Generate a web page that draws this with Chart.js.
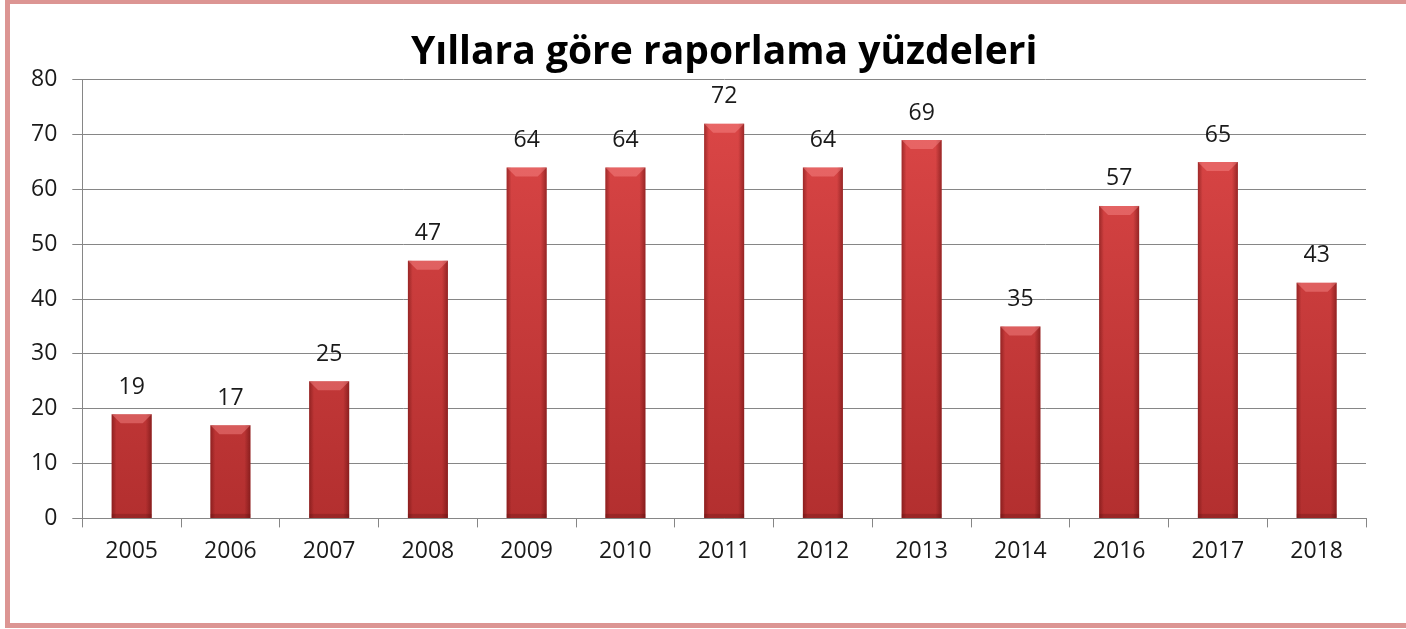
<!DOCTYPE html>
<html>
<head>
<meta charset="utf-8">
<script src="https://cdn.jsdelivr.net/npm/chart.js@4"></script>
<style>
  html, body { margin: 0; padding: 0; background: #fff; overflow: hidden; }
  #kutu {
    position: absolute; left: 5px; top: 0; width: 1450px; height: 619px;
    border-left: 5px solid #dc9593; border-top: 4px solid #dc9593; border-bottom: 5px solid #dc9593;
  }
  #grafikAlani { position: absolute; left: 0; top: 0; width: 1406px; height: 629px; }
</style>
</head>
<body>
<div id="kutu"></div>
<div id="grafikAlani"><canvas id="grafik" width="1406" height="629"></canvas></div>
<script>
// Yıllar ve yüzdeler
const yillar = ['2005', '2006', '2007', '2008', '2009', '2010', '2011', '2012', '2013', '2014', '2016', '2017', '2018'];
const yuzdeler = [19, 17, 25, 47, 64, 64, 72, 64, 69, 35, 57, 65, 43];
const eksenMin = 0;
const eksenMax = 80;
const eksenAdim = 10;

const yaziTipi = "'Open Sans', 'DejaVu Sans', sans-serif";

// Çubukların üstüne değer yazan eklenti (pah ve gölge de burada)
const degerEtiketi = {
    id: 'degerEtiketi',
    afterDatasetsDraw(chart) {
        const ctx = chart.ctx;
        const meta = chart.getDatasetMeta(0);
        ctx.save();
        meta.data.forEach((bar, i) => {
            const sol = bar.x - bar.width / 2;
            const sag = bar.x + bar.width / 2;
            const ust = bar.y;
            const alt = bar.base;
            // kenar gölgeleri
            let g = ctx.createLinearGradient(sol, 0, sag, 0);
            g.addColorStop(0, 'rgba(90,10,10,0.45)');
            g.addColorStop(0.12, 'rgba(90,10,10,0)');
            g.addColorStop(0.85, 'rgba(90,10,10,0)');
            g.addColorStop(1, 'rgba(90,10,10,0.5)');
            ctx.fillStyle = g;
            ctx.fillRect(sol, ust, sag - sol, alt - ust);
            // üst pah
            const h = 9;
            ctx.beginPath();
            ctx.moveTo(sol, ust);
            ctx.lineTo(sag, ust);
            ctx.lineTo(sag - h, ust + h);
            ctx.lineTo(sol + h, ust + h);
            ctx.closePath();
            ctx.fillStyle = 'rgba(255,150,150,0.4)';
            ctx.fill();
            // alt gölge
            ctx.fillStyle = 'rgba(80,10,10,0.25)';
            ctx.fillRect(sol, alt - 4, sag - sol, 4);

            ctx.fillStyle = '#1a1a1a';
            ctx.font = '23px ' + yaziTipi;
            ctx.textAlign = 'center';
            ctx.textBaseline = 'middle';
            ctx.fillText(String(yuzdeler[i]), bar.x, ust - 27);
        });
        ctx.restore();
    }
};

const ctx = document.getElementById('grafik').getContext('2d');
new Chart(ctx, {
    type: 'bar',
    data: {
        labels: yillar,
        datasets: [{
            label: 'Yüzde',
            data: yuzdeler,
            backgroundColor: function (context) {
                const ca = context.chart.chartArea;
                if (!ca) return '#c83a3a';
                const g = context.chart.ctx.createLinearGradient(0, ca.top, 0, ca.bottom);
                g.addColorStop(0, '#de4848');
                g.addColorStop(1, '#b32f2f');
                return g;
            },
            borderWidth: 0,
            categoryPercentage: 0.81,
            barPercentage: 0.5
        }]
    },
    options: {
        responsive: false,
        animation: false,
        layout: {
            padding: { left: 16, right: 40, top: 15, bottom: 54 }
        },
        scales: {
            x: {
                grid: {
                    drawOnChartArea: false,
                    drawTicks: true,
                    tickLength: 9,
                    color: '#868686'
                },
                border: { color: '#868686' },
                ticks: {
                    color: '#1a1a1a',
                    font: { family: yaziTipi, size: 23 },
                    padding: 10
                }
            },
            y: {
                min: eksenMin,
                max: eksenMax,
                grid: {
                    color: '#868686',
                    tickLength: 10
                },
                border: { color: '#868686' },
                ticks: {
                    stepSize: eksenAdim,
                    color: '#1a1a1a',
                    font: { family: yaziTipi, size: 23 },
                    padding: 15
                }
            }
        },
        plugins: {
            legend: { display: false },
            tooltip: { enabled: false },
            title: {
                display: true,
                fullSize: false,
                text: 'Yıllara göre raporlama yüzdeleri',
                color: '#000',
                font: { family: yaziTipi, size: 39, weight: 'bold' },
                padding: { top: 14, bottom: 4 }
            }
        }
    },
    plugins: [degerEtiketi]
});
</script>
</body>
</html>
